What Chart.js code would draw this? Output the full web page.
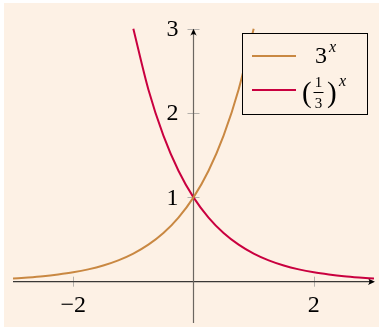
<!DOCTYPE html>
<html>
<head>
<meta charset="utf-8">
<script src="https://cdn.jsdelivr.net/npm/chart.js@4/dist/chart.umd.min.js"></script>
<style>
  html, body { margin: 0; padding: 0; background: #fff; }
</style>
</head>
<body>
<canvas id="chart" width="379" height="328"></canvas>
<script>
// Valores
const xGrowth = [-3, -2.75, -2.5, -2.25, -2, -1.75, -1.5, -1.25, -1, -0.75, -0.5, -0.25, 0, 0.25, 0.5, 0.75, 1]
const growth = [0.037, 0.049, 0.064, 0.085, 0.111, 0.146, 0.192, 0.253, 0.333, 0.439, 0.577, 0.760, 1, 1.316, 1.732, 2.280, 3]
const xDecay = [-1, -0.75, -0.5, -0.25, 0, 0.25, 0.5, 0.75, 1, 1.25, 1.5, 1.75, 2, 2.25, 2.5, 2.75, 3]
const decay = [3, 2.280, 1.732, 1.316, 1, 0.760, 0.577, 0.439, 0.333, 0.253, 0.192, 0.146, 0.111, 0.085, 0.064, 0.049, 0.037]

const xTicks = [-2, 2]
const xTickLabels = ['\u22122', '2']
const yTicks = [1, 2, 3]
const yTickLabels = ['1', '2', '3']

const colGrowth = '#c98842'
const colDecay = '#c9003f'
const bg = '#fdf1e5'
const serif = '"Liberation Serif", "DejaVu Serif", serif'

const pts = (xs, ys) => xs.map((x, i) => ({ x: x, y: ys[i] }))

const arrow = (ctx, x, y, dx, dy) => {
    const len = 7, w = 3.2
    const px = -dy, py = dx
    ctx.beginPath()
    ctx.moveTo(x, y)
    ctx.lineTo(x - dx * len + px * w, y - dy * len + py * w)
    ctx.quadraticCurveTo(x - dx * len * 0.6, y - dy * len * 0.6, x - dx * len - px * w, y - dy * len - py * w)
    ctx.closePath()
    ctx.fillStyle = '#000'
    ctx.fill()
}

const axesPlugin = {
    id: 'axes',
    beforeDraw(chart) {
        const ctx = chart.ctx
        ctx.save()
        ctx.fillStyle = '#fff'
        ctx.fillRect(0, 0, chart.width, chart.height)
        ctx.fillStyle = bg
        ctx.fillRect(4, 3, chart.width - 4, chart.height - 4)
        ctx.restore()
    },
    beforeDatasetsDraw(chart) {
        const ctx = chart.ctx
        const xs = chart.scales.x, ys = chart.scales.y
        const x0 = xs.getPixelForValue(0), y0 = ys.getPixelForValue(0)
        const xL = xs.getPixelForValue(-3), xR = xs.getPixelForValue(3)
        const yT = ys.getPixelForValue(3), yB = chart.chartArea.bottom
        ctx.save()
        // marcas
        ctx.strokeStyle = '#b4b0ab'
        ctx.lineWidth = 1
        xTicks.forEach(v => {
            const p = Math.round(xs.getPixelForValue(v)) + 0.5
            ctx.beginPath(); ctx.moveTo(p, y0 - 5); ctx.lineTo(p, y0 + 5); ctx.stroke()
        })
        yTicks.forEach(v => {
            const p = Math.round(ys.getPixelForValue(v)) + 0.5
            ctx.beginPath(); ctx.moveTo(x0 - 6, p); ctx.lineTo(x0 + 6, p); ctx.stroke()
        })
        // eixos
        ctx.lineWidth = 1.2
        ctx.strokeStyle = '#3a3836'
        ctx.beginPath(); ctx.moveTo(xL, y0); ctx.lineTo(xR - 3, y0); ctx.stroke()
        ctx.strokeStyle = '#6b6660'
        ctx.beginPath(); ctx.moveTo(x0, yB); ctx.lineTo(x0, yT + 3); ctx.stroke()
        arrow(ctx, xR + 1, y0, 1, 0)
        arrow(ctx, x0, yT, 0, -1)
        // rótulos
        ctx.fillStyle = '#000'
        ctx.font = '24px ' + serif
        ctx.textAlign = 'center'
        ctx.textBaseline = 'middle'
        xTicks.forEach((v, i) => ctx.fillText(xTickLabels[i], xs.getPixelForValue(v), y0 + 24))
        ctx.textAlign = 'right'
        yTicks.forEach((v, i) => ctx.fillText(yTickLabels[i], x0 - 15, ys.getPixelForValue(v) + 1))
        ctx.restore()
    },
    afterDraw(chart) {
        const ctx = chart.ctx
        ctx.save()
        ctx.fillStyle = bg
        ctx.fillRect(242.5, 33.5, 125, 81)
        ctx.strokeStyle = '#000'
        ctx.lineWidth = 1
        ctx.strokeRect(242.5, 33.5, 125, 81)
        ctx.lineWidth = 2
        ctx.strokeStyle = colGrowth
        ctx.beginPath(); ctx.moveTo(252, 56); ctx.lineTo(296, 56); ctx.stroke()
        ctx.strokeStyle = colDecay
        ctx.beginPath(); ctx.moveTo(252, 90); ctx.lineTo(296, 90); ctx.stroke()
        ctx.fillStyle = '#000'
        ctx.textBaseline = 'alphabetic'
        ctx.textAlign = 'left'
        // 3^x
        ctx.font = '24px ' + serif
        ctx.fillText('3', 315, 63)
        ctx.font = 'italic 16px ' + serif
        ctx.fillText('x', 329, 52)
        // (1/3)^x
        ctx.font = '29px ' + serif
        ctx.fillText('(', 302, 102)
        ctx.fillText(')', 327, 102)
        ctx.font = '15px ' + serif
        ctx.textAlign = 'center'
        ctx.fillText('1', 318.5, 87)
        ctx.fillText('3', 318.5, 108)
        ctx.fillRect(313.5, 92, 10, 1)
        ctx.textAlign = 'left'
        ctx.font = 'italic 16px ' + serif
        ctx.fillText('x', 339, 86)
        ctx.restore()
    }
}

let ctx = document.getElementById('chart')
let chart = new Chart(ctx, {
    type: 'scatter',
    data: {
        datasets: [{
            label: '3^x',
            data: pts(xGrowth, growth),
            showLine: true,
            borderColor: colGrowth,
            borderWidth: 2,
            pointRadius: 0,
            cubicInterpolationMode: 'monotone'
        }, {
            label: '(1/3)^x',
            data: pts(xDecay, decay),
            showLine: true,
            borderColor: colDecay,
            borderWidth: 2,
            pointRadius: 0,
            cubicInterpolationMode: 'monotone'
        }]
    },
    options: {
        responsive: false,
        animation: false,
        layout: { padding: { left: 13, right: 5, top: 27, bottom: 5 } },
        plugins: { legend: { display: false }, tooltip: { enabled: false } },
        scales: {
            x: { type: 'linear', min: -3, max: 3, display: false },
            y: { type: 'linear', min: -0.49, max: 3.02, display: false }
        }
    },
    plugins: [axesPlugin]
});
</script>
</body>
</html>
